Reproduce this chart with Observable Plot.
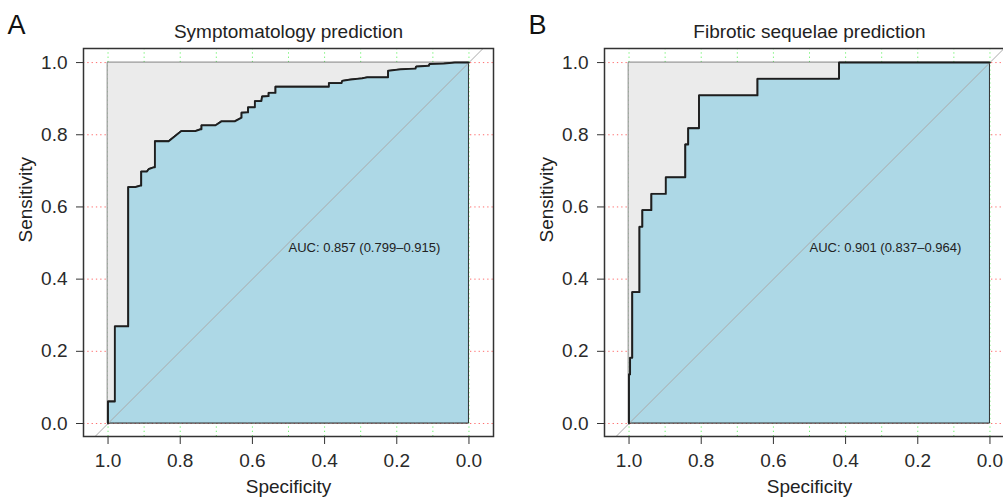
<!DOCTYPE html>
<html><head><meta charset="utf-8">
<script src="https://cdn.jsdelivr.net/npm/d3@7"></script>
<script src="https://cdn.jsdelivr.net/npm/@observablehq/plot@0.6"></script>
<style>
body{margin:0;background:#fff;}
#wrap{position:relative;width:1003px;height:498px;overflow:hidden;background:#fff;}
.panel{position:absolute;top:0;}
</style></head><body><div id="wrap"></div>
<script>
// Panel A: Symptomatology prediction (ROC vertices: specificity, sensitivity)
const specA = [1, 1, 0.981, 0.981, 0.944, 0.944, 0.924, 0.91, 0.908, 0.908, 0.892, 0.887, 0.872, 0.870, 0.870, 0.832, 0.797, 0.758, 0.744, 0.741, 0.741, 0.702, 0.686, 0.649, 0.630, 0.630, 0.614, 0.612, 0.612, 0.593, 0.593, 0.575, 0.573, 0.555, 0.555, 0.536, 0.536, 0.388, 0.388, 0.353, 0.351, 0.328, 0.296, 0.282, 0.224, 0.224, 0.19, 0.148, 0.146, 0.111, 0.109, 0.07, 0.039, 0];
const sensA = [0, 0.061, 0.061, 0.269, 0.269, 0.655, 0.655, 0.659, 0.659, 0.698, 0.698, 0.705, 0.71, 0.71, 0.782, 0.782, 0.81, 0.81, 0.815, 0.815, 0.826, 0.826, 0.837, 0.837, 0.847, 0.861, 0.862, 0.862, 0.876, 0.876, 0.893, 0.893, 0.906, 0.907, 0.916, 0.916, 0.933, 0.933, 0.943, 0.943, 0.949, 0.953, 0.956, 0.959, 0.959, 0.977, 0.981, 0.983, 0.989, 0.991, 0.996, 0.997, 1, 1];
// Panel B: Fibrotic sequelae prediction
const specB = [1, 1, 0.997, 0.997, 0.991, 0.991, 0.971, 0.971, 0.963, 0.963, 0.938, 0.938, 0.898, 0.898, 0.844, 0.844, 0.836, 0.836, 0.806, 0.806, 0.644, 0.644, 0.418, 0.418, 0];
const sensB = [0, 0.136, 0.136, 0.182, 0.182, 0.364, 0.364, 0.545, 0.545, 0.591, 0.591, 0.636, 0.636, 0.682, 0.682, 0.773, 0.773, 0.818, 0.818, 0.909, 0.909, 0.955, 0.955, 1, 1];

const titles = ["Symptomatology prediction", "Fibrotic sequelae prediction"];
const letters = ["A", "B"];
const aucLabels = ["AUC: 0.857 (0.799\u20130.915)", "AUC: 0.901 (0.837\u20130.964)"];
const aucPos = {spec: 0.5, sens: 0.5};
const xTicks = [1.0, 0.8, 0.6, 0.4, 0.2, 0.0];
const yTicks = [0.0, 0.2, 0.4, 0.6, 0.8, 1.0];
const gridX = [1.0, 0.9, 0.8, 0.7, 0.6, 0.5, 0.4, 0.3, 0.2, 0.1, 0.0];
const gridY = [0.0, 0.2, 0.4, 0.6, 0.8, 1.0];
const maxAuc = [{spec: 1, sens: 1}, {spec: 0, sens: 1}];
const xDomain = [1.068, -0.068];
const yDomain = [-0.036, 1.039];
const identity = [{spec: 1.2, sens: -0.2}, {spec: -0.2, sens: 1.2}];

const FONT = "'Liberation Sans', Arial, Helvetica, sans-serif";
const fmt = d3.format(".1f");

function panel(spec, sens, i) {
  const pts = spec.map((s, k) => ({spec: s, sens: sens[k]}));
  return Plot.plot({
    width: 500, height: 498,
    marginLeft: 83, marginRight: 7, marginTop: 48, marginBottom: 62,
    x: {domain: xDomain},
    y: {domain: yDomain},
    style: {fontFamily: FONT, fontSize: "19px", color: "#2a2a2a", background: "transparent", overflow: "visible"},
    marks: [
      Plot.ruleY(gridY, {stroke: "#ff3030", strokeOpacity: 0.7, strokeDasharray: "1.3,3"}),
      Plot.ruleX(gridX, {stroke: "#33ee33", strokeOpacity: 0.7, strokeDasharray: "1.3,3"}),
      Plot.area(maxAuc, {x1: "spec", y1: 0, y2: "sens", fill: "#ebebeb", stroke: "#666", strokeWidth: 0.8}),
      Plot.area(pts, {x1: "spec", y1: 0, y2: "sens", fill: "#add8e6", stroke: "#333", strokeWidth: 1}),
      Plot.line(identity, {x: "spec", y: "sens", stroke: "#aaaaaa", strokeWidth: 1, clip: true}),
      Plot.line(pts, {x: "spec", y: "sens", stroke: "#1e1e1e", strokeWidth: 1.8}),
      Plot.text([aucPos], {x: "spec", y: "sens", text: () => aucLabels[i], textAnchor: "start", lineAnchor: "top", fontSize: 13, fill: "#222"}),
      Plot.frame({stroke: "#333", strokeWidth: 1.5}),
      Plot.axisX(xTicks, {tickSize: 8, tickPadding: 9, tickFormat: fmt, fontSize: 19, label: null, stroke: "#333"}),
      Plot.axisY(yTicks, {tickSize: 7, tickPadding: 9, tickFormat: fmt, fontSize: 19, label: null, stroke: "#333"}),
      Plot.text([titles[i]], {frameAnchor: "top", lineAnchor: "middle", dy: -17, text: d => d, fontSize: 19, fill: "#222"}),
      Plot.text([letters[i]], {frameAnchor: "top-left", lineAnchor: "middle", dx: -76, dy: -23, textAnchor: "start", text: d => d, fontSize: 27, fill: "#111"}),
      Plot.text(["Specificity"], {frameAnchor: "bottom", lineAnchor: "middle", dy: 50, text: d => d, fontSize: 19, fill: "#222"}),
      Plot.text(["Sensitivity"], {frameAnchor: "left", lineAnchor: "middle", dx: -58, rotate: -90, text: d => d, fontSize: 19, fill: "#222"})
    ]
  });
}

const wrap = document.getElementById("wrap");
const pA = panel(specA, sensA, 0);
pA.classList.add("panel"); pA.style.left = "0px";
const pB = panel(specB, sensB, 1);
pB.classList.add("panel"); pB.style.left = "521px";
wrap.appendChild(pA);
wrap.appendChild(pB);
</script></body></html>
